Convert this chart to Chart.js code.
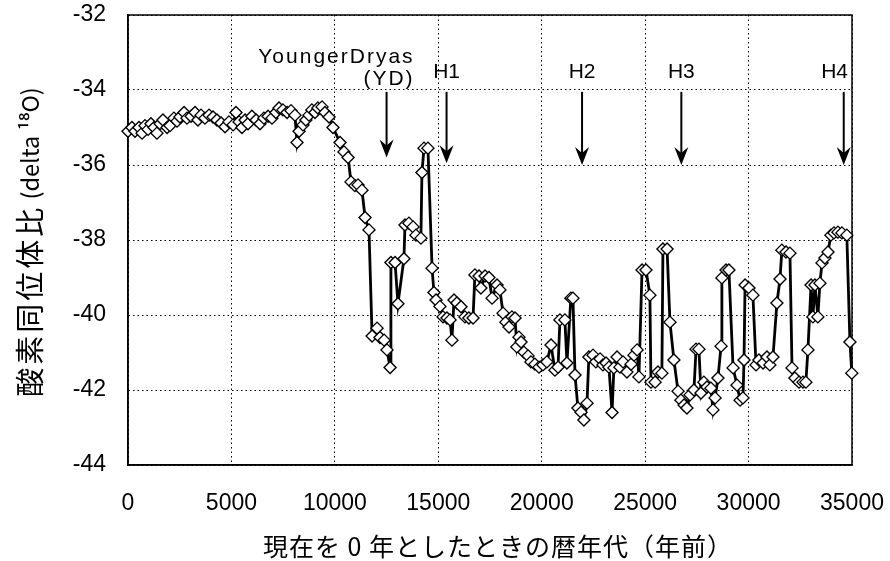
<!DOCTYPE html>
<html>
<head>
<meta charset="utf-8">
<script src="https://cdn.jsdelivr.net/npm/chart.js@4/dist/chart.umd.min.js"></script>
<style>
  html, body { margin: 0; padding: 0; background: #fff; }
  canvas { display: block; }
</style>
</head>
<body>
<canvas id="chart" width="890" height="561"></canvas>
<script>
// data
const years = [
  0, 190, 340, 530, 680, 820, 970, 1110, 1260, 1400,
  1550, 1690, 1890, 2030, 2220, 2370, 2510, 2710, 2850, 3050,
  3240, 3380, 3530, 3720, 3920, 4110, 4300, 4500, 4690, 4880,
  5080, 5220, 5370, 5510, 5660, 5800, 5990, 6190, 6380, 6570,
  6770, 6960, 7150, 7300, 7490, 7690, 7880, 8070, 8170, 8270,
  8460, 8600, 8750, 8890, 9040, 9180, 9380, 9520, 9720, 9910,
  10250, 10440, 10640, 10780, 10970, 11120, 11310, 11460, 11650, 11800,
  12040, 12180, 12380, 12520, 12670, 12710, 12910, 13050, 13340, 13390,
  13580, 13780, 13920, 14160, 14210, 14310, 14500, 14700, 14790, 14890,
  15080, 15230, 15420, 15570, 15660, 15760, 15900, 16100, 16290, 16480,
  16680, 16770, 16970, 17060, 17260, 17450, 17600, 17840, 17980, 18130,
  18270, 18420, 18560, 18710, 18800, 18900, 19000, 19140, 19340, 19480,
  19670, 19870, 20060, 20250, 20450, 20640, 20790, 20880, 21120, 21220,
  21410, 21510, 21610, 21750, 21900, 22040, 22190, 22280, 22480, 22620,
  22820, 22960, 23110, 23250, 23400, 23490, 23640, 23780, 23930, 24120,
  24320, 24460, 24610, 24700, 24850, 25040, 25230, 25280, 25480, 25620,
  25810, 25860, 26060, 26200, 26390, 26590, 26730, 26880, 27020, 27170,
  27360, 27460, 27600, 27700, 27840, 27990, 28180, 28280, 28380, 28520,
  28670, 28710, 28910, 29050, 29250, 29440, 29590, 29730, 29780, 29830,
  30020, 30210, 30360, 30500, 30700, 30890, 31030, 31180, 31370, 31520,
  31610, 31810, 32000, 32100, 32240, 32440, 32630, 32770, 32870, 33020,
  33110, 33210, 33350, 33450, 33550, 33690, 33840, 33980, 34130, 34320,
  34510, 34750, 34900, 34990
];
const delta18O = [
  -35.1, -35.0, -35.1, -35.0, -35.15, -34.95, -35.05, -34.9, -35.0, -35.15,
  -34.9, -34.8, -35.0, -34.95, -34.75, -34.83, -34.72, -34.6, -34.75, -34.7,
  -34.6, -34.8, -34.67, -34.75, -34.67, -34.72, -34.8, -34.88, -34.98, -34.85,
  -34.93, -34.6, -34.85, -35.0, -34.8, -34.9, -34.7, -34.8, -34.9, -34.75,
  -34.7, -34.75, -34.6, -34.48, -34.53, -34.6, -34.55, -34.67, -35.4, -35.1,
  -34.93, -34.8, -34.67, -34.53, -34.6, -34.48, -34.45, -34.6, -34.72, -35.0,
  -35.4, -35.65, -35.8, -36.45, -36.55, -36.53, -36.67, -37.4, -37.73, -40.56,
  -40.35, -40.6, -40.67, -40.93, -41.4, -38.6, -38.6, -39.7, -38.5, -37.6,
  -37.55, -37.65, -37.87, -37.95, -36.2, -35.55, -35.55, -38.75, -39.4, -39.6,
  -39.77, -40.05, -40.08, -40.13, -40.67, -39.6, -39.68, -39.78, -40.05, -40.08,
  -40.08, -38.93, -38.96, -39.28, -38.96, -39.0, -39.55, -39.2, -39.33, -39.95,
  -40.19, -40.32, -40.05, -40.08, -40.85, -40.59, -40.72, -40.99, -41.09, -41.25,
  -41.31, -41.39, -41.33, -41.25, -40.8, -41.47, -41.39, -40.13, -40.13, -41.28,
  -39.55, -39.55, -41.6, -42.48, -42.59, -42.8, -42.35, -41.12, -41.07, -41.25,
  -41.17, -41.33, -41.28, -41.39, -42.6, -41.41, -41.12, -41.39, -41.25, -41.52,
  -41.31, -41.07, -40.93, -41.65, -38.8, -38.8, -39.47, -41.79, -41.79, -41.52,
  -41.55, -38.24, -38.24, -40.19, -41.2, -42.03, -42.27, -42.4, -42.48, -42.13,
  -42.0, -40.91, -40.91, -42.08, -41.79, -41.92, -41.95, -42.53, -42.21, -41.68,
  -40.83, -39.01, -38.8, -38.8, -41.41, -41.87, -42.27, -42.21, -41.2, -39.2,
  -39.28, -39.47, -41.33, -41.2, -41.28, -41.12, -41.33, -41.12, -39.68, -39.04,
  -38.27, -38.32, -38.35, -41.41, -41.68, -41.79, -41.79, -41.79, -40.93, -39.2,
  -40.05, -39.2, -40.05, -39.15, -38.61, -38.48, -38.32, -37.87, -37.81, -37.79,
  -37.81, -37.87, -40.72, -41.55
];
const xTickValues = [0, 5000, 10000, 15000, 20000, 25000, 30000, 35000];
const yTickValues = [-44, -42, -40, -38, -36, -34, -32];

// axis titles
const xTitle = '現在を 0 年としたときの暦年代（年前）';
const yTitleJa = '酸素同位体比';
const yTitleEn = ' (delta ¹⁸O)';

// events marked by arrows
const eventNames = ['YoungerDryas\n(YD)', 'H1', 'H2', 'H3', 'H4'];
const eventYears = [12500, 15400, 21950, 26750, 34600];
const arrowTop = -34.05;
const arrowTips = [-35.8, -35.95, -36.0, -36.0, -36.0];

const tickFont = {family: '"Liberation Sans Narrow", "Liberation Sans", Arial, sans-serif', size: 23};
const cjk = '"Noto Sans CJK JP", "Noto Sans", sans-serif';

// frame, titles and event arrows
const overlay = {
  id: 'overlay',
  beforeDatasetsDraw(chart) {
    const {ctx, chartArea: a} = chart;
    ctx.save();
    ctx.strokeStyle = '#000';
    ctx.lineWidth = 1.5;
    ctx.strokeRect(a.left, a.top, a.right - a.left, a.bottom - a.top);
    ctx.restore();
  },
  afterDatasetsDraw(chart) {
    const {ctx, chartArea: a, scales: {x, y}} = chart;
    ctx.save();
    ctx.fillStyle = '#000';
    ctx.strokeStyle = '#000';
    ctx.font = '21px "Liberation Sans", Arial, sans-serif';
    ctx.textBaseline = 'middle';
    eventYears.forEach((yr, i) => {
      const px = x.getPixelForValue(yr);
      const top = y.getPixelForValue(arrowTop);
      const tip = y.getPixelForValue(arrowTips[i]);
      ctx.lineWidth = 2;
      ctx.beginPath();
      ctx.moveTo(px, top);
      ctx.lineTo(px, tip - 10);
      ctx.stroke();
      ctx.beginPath();
      ctx.moveTo(px, tip);
      ctx.lineTo(px - 7, tip - 18);
      ctx.lineTo(px, tip - 12);
      ctx.lineTo(px + 7, tip - 18);
      ctx.closePath();
      ctx.fill();
      const lines = eventNames[i].split('\n');
      if (lines.length > 1) {
        ctx.textAlign = 'right';
        ctx.letterSpacing = '2px';
        ctx.fillText(lines[0], px + 28, top - 35);
        ctx.fillText(lines[1], px + 28, top - 13);
        ctx.letterSpacing = '0px';
      } else {
        ctx.textAlign = 'center';
        const w = ctx.measureText(lines[0]).width;
        const cx = Math.min(px, a.right - w / 2 - 4);
        ctx.fillText(lines[0], cx, top - 20);
      }
    });

    // x title
    ctx.textAlign = 'center';
    ctx.font = '25px ' + cjk;
    ctx.letterSpacing = '1px';
    ctx.fillText(xTitle, (a.left + a.right) / 2 + 8, 546);

    // y title, read bottom to top
    ctx.translate(30, (a.top + a.bottom) / 2 + 2);
    ctx.rotate(-Math.PI / 2);
    ctx.textAlign = 'left';
    ctx.font = '29px ' + cjk;
    ctx.letterSpacing = '3px';
    const wJa = ctx.measureText(yTitleJa).width;
    ctx.font = '23.5px ' + cjk;
    ctx.letterSpacing = '0px';
    const wEn = ctx.measureText(yTitleEn).width;
    const x0 = -(wJa + wEn) / 2;
    ctx.font = '29px ' + cjk;
    ctx.letterSpacing = '3px';
    ctx.fillText(yTitleJa, x0, 0);
    ctx.font = '23.5px ' + cjk;
    ctx.letterSpacing = '0px';
    ctx.fillText(yTitleEn, x0 + wJa, 0);
    ctx.restore();
  }
};

// chart
const ctx = document.getElementById('chart');
new Chart(ctx, {
  type: 'scatter',
  data: {
    datasets: [{
      data: years.map((yr, i) => ({x: yr, y: delta18O[i]})),
      showLine: true,
      borderColor: '#000',
      borderWidth: 2.8,
      tension: 0,
      pointStyle: 'rectRot',
      pointRadius: 6,
      pointBackgroundColor: '#fff',
      pointBorderColor: '#000',
      pointBorderWidth: 1.4,
      clip: false,
    }]
  },
  options: {
    responsive: false,
    animation: false,
    devicePixelRatio: 1,
    layout: {padding: {left: 0, right: 38, top: 15, bottom: 0}},
    plugins: {legend: {display: false}, tooltip: {enabled: false}},
    scales: {
      x: {
        type: 'linear',
        min: 0,
        max: 35000,
        afterBuildTicks: s => { s.ticks = xTickValues.map(v => ({value: v})); },
        afterFit: s => { s.height = 96; s.paddingLeft = 0; s.paddingRight = 0; },
        ticks: {color: '#000', font: tickFont, padding: 25, maxRotation: 0, callback: v => String(v)},
        grid: {color: '#000', lineWidth: 1, drawTicks: false},
        border: {display: true, color: '#000', width: 1.5, dash: [1.5, 3]},
      },
      y: {
        type: 'linear',
        min: -44,
        max: -32,
        afterBuildTicks: s => { s.ticks = yTickValues.map(v => ({value: v})); },
        afterFit: s => { s.width = 128; s.paddingTop = 0; s.paddingBottom = 0; },
        ticks: {color: '#000', font: tickFont, padding: 22, callback: v => String(v)},
        grid: {color: '#000', lineWidth: 1, drawTicks: false},
        border: {display: true, color: '#000', width: 1.5, dash: [1.5, 3]},
      }
    }
  },
  plugins: [overlay]
});
</script>
</body>
</html>
